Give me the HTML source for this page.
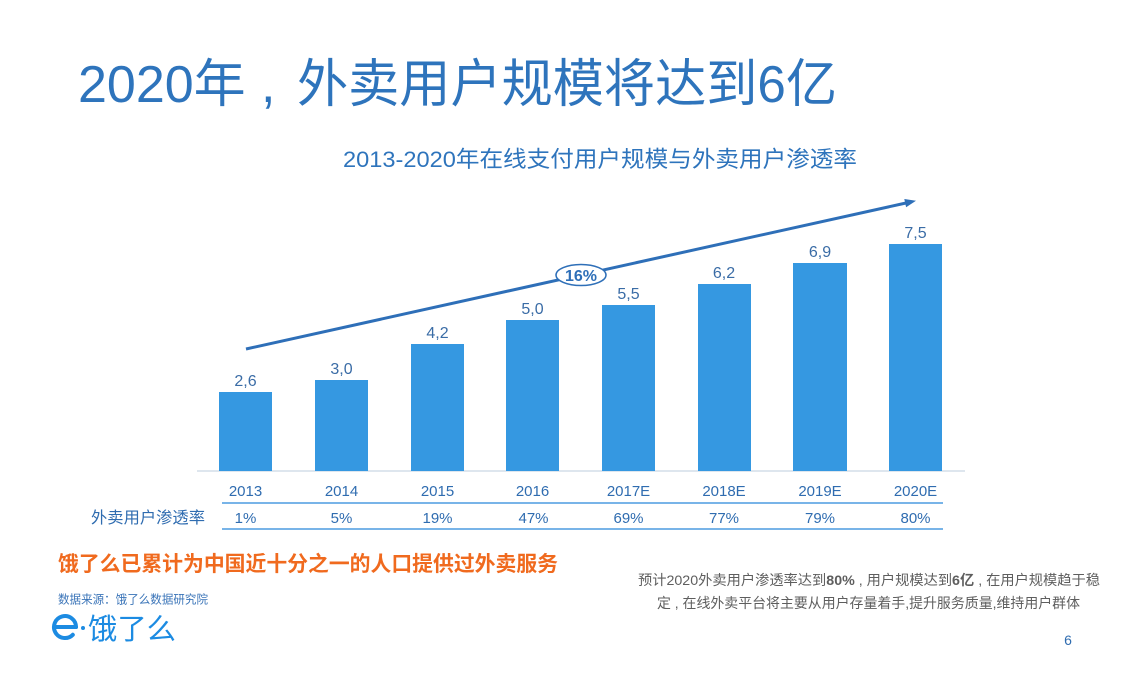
<!DOCTYPE html>
<html>
<head>
<meta charset="utf-8">
<style>
html,body{margin:0;padding:0;background:#fff;}
svg{display:block;}
text{font-family:"Liberation Sans","Noto Sans CJK SC",sans-serif;}
</style>
</head>
<body>
<svg width="1140" height="676" viewBox="0 0 1140 676" xmlns="http://www.w3.org/2000/svg">
<rect width="1140" height="676" fill="#fff"/>

<!-- Title -->
<text x="78" y="102" font-size="52" fill="#2E74BC">2020年</text>
<text x="261" y="102" font-size="52" fill="#2E74BC">,</text>
<text x="297" y="102" font-size="52" fill="#2E74BC" textLength="540" lengthAdjust="spacingAndGlyphs">外卖用户规模将达到6亿</text>

<!-- Subtitle -->
<text x="343" y="167" font-size="22.5" fill="#2E74BC" textLength="514" lengthAdjust="spacingAndGlyphs">2013-2020年在线支付用户规模与外卖用户渗透率</text>

<!-- Baseline -->
<line x1="197" y1="471" x2="965" y2="471" stroke="#D3DDE8" stroke-width="1.5"/>

<!-- Bars -->
<g fill="#3598E1">
<rect x="219" y="392" width="53" height="79"/>
<rect x="315" y="380" width="53" height="91"/>
<rect x="411" y="344" width="53" height="127"/>
<rect x="506" y="320" width="53" height="151"/>
<rect x="602" y="305" width="53" height="166"/>
<rect x="698" y="284" width="53" height="187"/>
<rect x="793" y="263" width="54" height="208"/>
<rect x="889" y="244" width="53" height="227"/>
</g>

<!-- Value labels -->
<g font-size="16" fill="#3A6CA6" text-anchor="middle">
<text x="245.5" y="386">2,6</text>
<text x="341.5" y="374">3,0</text>
<text x="437.5" y="338">4,2</text>
<text x="532.5" y="314">5,0</text>
<text x="628.5" y="299">5,5</text>
<text x="724" y="278">6,2</text>
<text x="820" y="257">6,9</text>
<text x="915.5" y="238">7,5</text>
</g>

<!-- Growth arrow -->
<line x1="246" y1="349" x2="906" y2="203" stroke="#2E6FB8" stroke-width="3"/>
<polygon points="916,200.8 906.1,207.3 904.3,199" fill="#2E6FB8"/>
<ellipse cx="581" cy="275" rx="25" ry="10.5" fill="#fff" stroke="#2E6FB8" stroke-width="1.5"/>
<text x="581" y="281" font-size="16" font-weight="bold" fill="#2E6FB8" text-anchor="middle">16%</text>

<!-- Table -->
<g font-size="15" fill="#2F6CB0" text-anchor="middle">
<text x="245.5" y="496">2013</text>
<text x="341.5" y="496">2014</text>
<text x="437.5" y="496">2015</text>
<text x="532.5" y="496">2016</text>
<text x="628.5" y="496">2017E</text>
<text x="724" y="496">2018E</text>
<text x="820" y="496">2019E</text>
<text x="915.5" y="496">2020E</text>
</g>
<line x1="222" y1="503" x2="943" y2="503" stroke="#4B9BE0" stroke-width="1.5"/>
<text x="91" y="523" font-size="16" fill="#2F6CB0" textLength="114" lengthAdjust="spacingAndGlyphs">外卖用户渗透率</text>
<g font-size="15" fill="#2F6CB0" text-anchor="middle">
<text x="245.5" y="523">1%</text>
<text x="341.5" y="523">5%</text>
<text x="437.5" y="523">19%</text>
<text x="533.5" y="523">47%</text>
<text x="628.5" y="523">69%</text>
<text x="724" y="523">77%</text>
<text x="820" y="523">79%</text>
<text x="915.5" y="523">80%</text>
</g>
<line x1="222" y1="529" x2="943" y2="529" stroke="#4B9BE0" stroke-width="1.5"/>

<!-- Orange highlight -->
<text x="58" y="571" font-size="20.8" font-weight="bold" fill="#F06A1E" textLength="500" lengthAdjust="spacingAndGlyphs">饿了么已累计为中国近十分之一的人口提供过外卖服务</text>

<!-- Source -->
<text x="58" y="603.5" font-size="12" fill="#3A74B8" textLength="150" lengthAdjust="spacingAndGlyphs">数据来源：饿了么数据研究院</text>

<!-- Logo -->
<g stroke="#1C8BE2" stroke-width="4" fill="none" stroke-linecap="round">
<path d="M55,627 L76,627"/>
<path d="M76,627 A11,11 0 1 0 72.8,634.8"/>
</g>
<circle cx="83" cy="628" r="2" fill="#1C8BE2"/>
<text x="88" y="639" font-size="29" fill="#1C8BE2" textLength="88" lengthAdjust="spacingAndGlyphs">饿了么</text>

<!-- Right paragraph -->
<text x="638" y="585" font-size="14" fill="#5E5E5E" textLength="462" lengthAdjust="spacingAndGlyphs" xml:space="preserve">预计2020外卖用户渗透率达到<tspan font-weight="bold">80%</tspan> , 用户规模达到<tspan font-weight="bold">6亿</tspan> , 在用户规模趋于稳</text>
<text x="657" y="608" font-size="14" fill="#5E5E5E" textLength="423" lengthAdjust="spacingAndGlyphs" xml:space="preserve">定 , 在线外卖平台将主要从用户存量着手,提升服务质量,维持用户群体</text>

<!-- Page number -->
<text x="1068" y="645" font-size="14" fill="#2F6CB0" text-anchor="middle">6</text>
</svg>
</body>
</html>
